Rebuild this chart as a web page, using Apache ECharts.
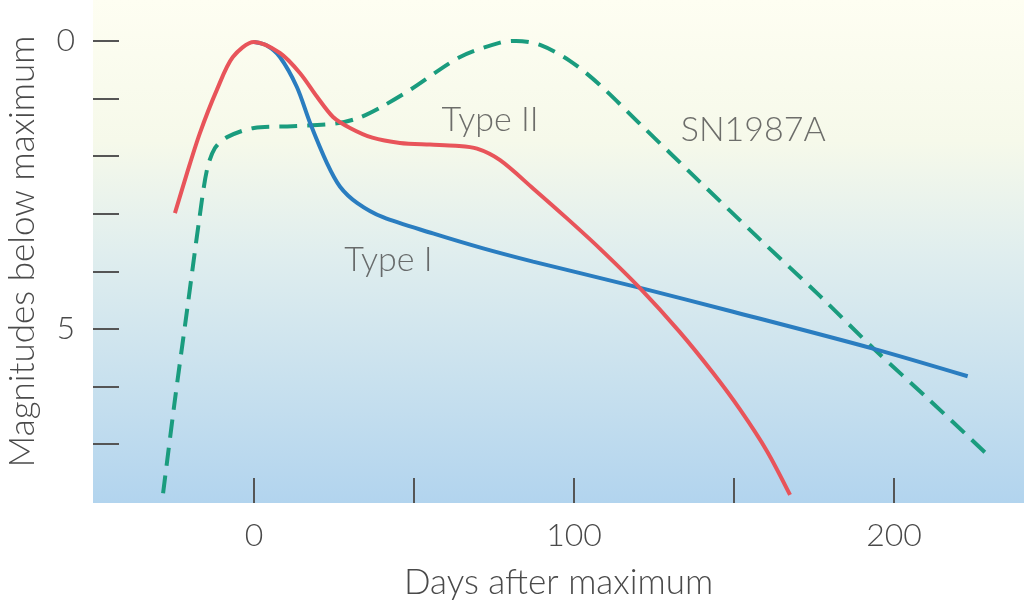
<!DOCTYPE html>
<html>
<head>
<meta charset="utf-8">
<script src="https://cdn.jsdelivr.net/npm/echarts@6/dist/echarts.min.js"></script>
<style>html,body{margin:0;padding:0;background:#fff}#c{width:1024px;height:601px}</style>
</head>
<body>
<div id="c"></div>
<script>
// Days after maximum, magnitudes below maximum
const typeII = [[-24.7,2.99],[-20.9,2.29],[-16.9,1.60],[-11.6,0.85],[-6.6,0.28],[0,0.02],[8.1,0.21],[14.4,0.56],[19.7,0.97],[24.7,1.32],[30,1.51],[37,1.68],[45.6,1.77],[55,1.80],[63,1.82],[69.7,1.87],[76.9,2.07],[87.2,2.56],[97.8,3.08],[108,3.60],[120.6,4.29],[133,5.05],[143.4,5.76],[151.9,6.40],[160.3,7.12],[167.5,7.88]];
const typeI = [[0,0.02],[4,0.08],[8.1,0.28],[13.4,0.8],[17.5,1.42],[22.8,2.12],[26.9,2.53],[32.2,2.81],[40.3,3.06],[55.9,3.34],[71.6,3.60],[87.2,3.83],[101.9,4.03],[121.6,4.30],[149.7,4.70],[193.4,5.34],[223,5.82]];
const sn1987a = [[-28.4,7.85],[-24.7,6.23],[-20.9,4.67],[-17.2,3.14],[-14.7,2.24],[-12.2,1.86],[-8.4,1.67],[0,1.51],[12,1.48],[26,1.43],[33,1.33],[40,1.14],[48.8,0.85],[64.4,0.28],[76.9,0.03],[81.9,0],[89.4,0.07],[98.8,0.35],[108,0.76],[120.6,1.44],[139.4,2.45],[158,3.44],[176.9,4.43],[194,5.36],[211,6.23],[228.4,7.14]];
const labels = [["Type II",73.8,1.37],["SN1987A",156,1.55],["Type I",42,3.8]];
const xTicks = [0,50,100,150,200];
const xLabels = [0,100,200];
const yTicks = [0,1,2,3,4,5,6,7];
const yLabels = [0,5];

const font = "Lato";
const chart = echarts.init(document.getElementById('c'));
chart.setOption({
  animation:false,
  grid:{left:93,right:0,top:0,bottom:98,show:true,borderWidth:0,containLabel:false,outerBoundsMode:'none',
    backgroundColor:{type:'linear',x:0,y:0,x2:0,y2:1,colorStops:[
      {offset:0,color:'#fefef2'},{offset:0.28,color:'#f6f9ea'},{offset:0.5,color:'#e0eeee'},{offset:1,color:'#b2d4ee'}]}},
  xAxis:{type:'value',min:-50.3,max:240.6,position:'bottom',
    name:'Days after maximum',nameLocation:'middle',nameGap:62,
    nameTextStyle:{fontFamily:font,fontWeight:300,fontSize:35,color:'#4a4a4a'},
    axisLine:{show:false,onZero:false},splitLine:{show:false},
    axisTick:{show:true,inside:true,length:25,customValues:xTicks,lineStyle:{color:'#555',width:2}},
    axisLabel:{customValues:xLabels,margin:17,fontFamily:font,fontWeight:300,fontSize:32,color:'#4a4a4a'}},
  yAxis:{type:'value',inverse:true,min:-0.71,max:8.02,position:'left',
    name:'Magnitudes below maximum',nameLocation:'middle',nameGap:53,nameRotate:90,
    nameTextStyle:{fontFamily:font,fontWeight:300,fontSize:35,color:'#4a4a4a'},
    axisLine:{show:false,onZero:false},splitLine:{show:false},
    axisTick:{show:true,inside:true,length:26,customValues:yTicks,lineStyle:{color:'#555',width:2}},
    axisLabel:{customValues:yLabels,margin:18,fontFamily:font,fontWeight:300,fontSize:32,color:'#4a4a4a'}},
  series:[
    {type:'line',data:sn1987a,smooth:0.3,showSymbol:false,lineStyle:{color:'#1a9c7e',width:4,type:[18,10]}},
    {type:'line',data:typeI,smooth:0.3,showSymbol:false,lineStyle:{color:'#2a7dc0',width:4}},
    {type:'line',data:typeII,smooth:0.3,showSymbol:false,lineStyle:{color:'#e8545a',width:4}},
    {type:'scatter',symbolSize:0,data:labels.map(l=>({value:[l[1],l[2]],name:l[0]})),
     label:{show:true,position:'inside',formatter:p=>p.name,fontFamily:font,fontWeight:300,fontSize:34,color:'#4a4a4a'}}
  ]
});
</script>
</body>
</html>
